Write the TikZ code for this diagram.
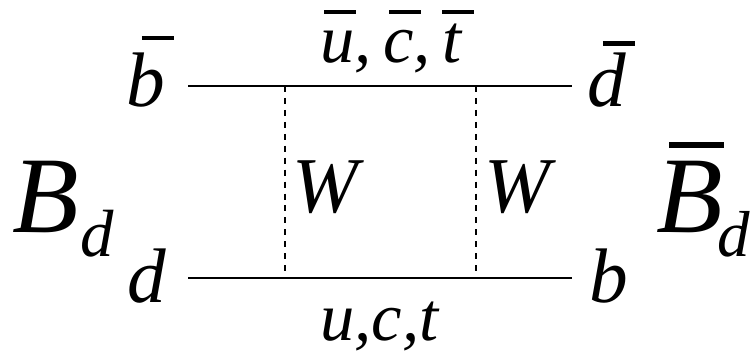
\documentclass[tikz,border=0pt]{standalone}
\usepackage{fontspec}
\setmainfont{Liberation Serif}
\usetikzlibrary{positioning}
% bar over an italic letter: #1 shift, #2 height, #3 width, #4 letter
\newcommand{\topbar}[4]{\rlap{\kern#1\rule[#2]{#3}{0.055em}}#4}

\begin{document}
\begin{tikzpicture}[x=0.02cm, y=-0.02cm,
    quark/.style={inner sep=0pt, anchor=base west, font=\fontsize{44}{52}\selectfont\itshape},
    meson/.style={inner sep=0pt, anchor=base west, font=\fontsize{62}{74}\selectfont\itshape},
    wlbl/.style={inner sep=0pt, anchor=base west, font=\fontsize{45}{54}\selectfont\itshape},
    flav/.style={inner sep=0pt, anchor=base west, font=\fontsize{39}{46}\selectfont\itshape},
    fermion/.style={line width=1.1pt},
    boson/.style={line width=0.8pt, dash pattern=on 3.4pt off 3.4pt}
  ]
    \useasboundingbox (0,0) rectangle (753,359);
    \coordinate (tl) at (188,86);
    \coordinate (v1) at (285,86);
    \coordinate (v2) at (476,86);
    \coordinate (tr) at (572,86);
    \coordinate (bl) at (188,278);
    \coordinate (v3) at (285,278);
    \coordinate (v4) at (476,278);
    \coordinate (br) at (572,278);
    \node[quark] (bbar) at (126,106) {\topbar{0.2em}{0.85em}{0.42em}{b}};
    \node[quark] (dbar) at (587,106) {\topbar{0.2em}{0.78em}{0.42em}{d}};
    \node[quark] (din) at (127,302) {d};
    \node[quark] (bout) at (589,302) {b};
    \node[meson] (Bd) at (12,232) {B\kern1pt\raisebox{-14pt}{\fontsize{38}{46}\selectfont d}};
    \node[meson] (Bdbar) at (656,232) {\topbar{0.12em}{0.77em}{0.5em}{B}\kern-3pt\raisebox{-14pt}{\fontsize{37}{44}\selectfont d}};
    \node[wlbl] (w1) at (292,212) {W};
    \node[wlbl] (w2) at (484,212) {W};
    \node[flav] (up) at (320,62) {\topbar{0.06em}{0.7em}{0.46em}{u},\,\topbar{0.09em}{0.7em}{0.46em}{c},\,\topbar{0em}{0.7em}{0.46em}{t}};
    \node[flav] (down) at (320,340) {u,c,t};
    \draw[fermion] (tl) -- (tr);
    \draw[fermion] (bl) -- (br);
    \draw[boson] (v1) -- (v3);
    \draw[boson] (v2) -- (v4);
\end{tikzpicture}
\end{document}
